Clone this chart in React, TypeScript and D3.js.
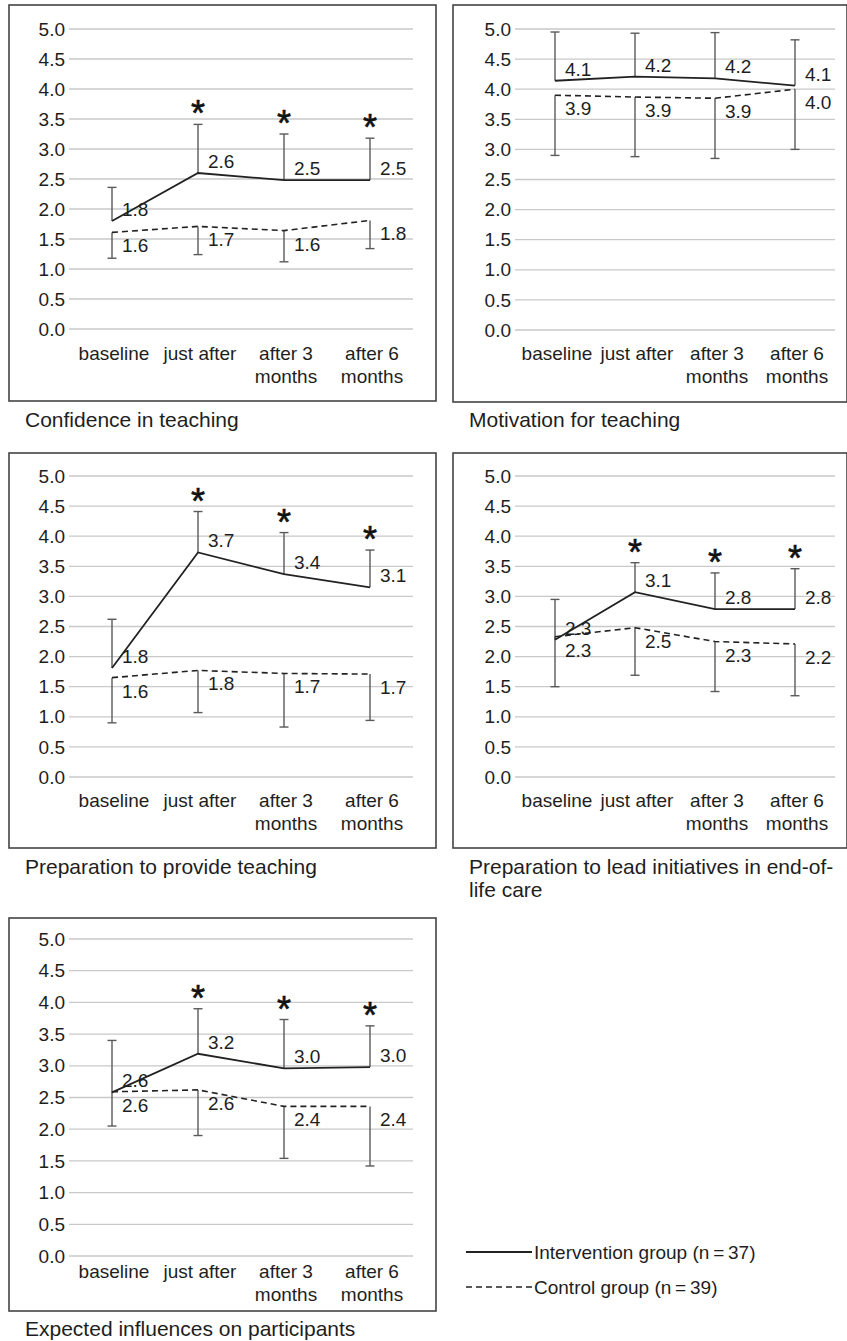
import React from "react";
import * as d3 from "d3";

// ---------- data ----------
const categories = ["baseline", "just after", "after 3 months", "after 6 months"];
const categoryLines = [["baseline"], ["just after"], ["after 3", "months"], ["after 6", "months"]];
const yTicks = [0, 0.5, 1, 1.5, 2, 2.5, 3, 3.5, 4, 4.5, 5];

const titles = [
  ["Confidence in teaching"],
  ["Motivation for teaching"],
  ["Preparation to provide teaching"],
  ["Preparation to lead initiatives in end-of-", "life care"],
  ["Expected influences on participants"],
];

const intMean1 = [1.8, 2.6, 2.48, 2.48];
const intUpper1 = [2.36, 3.41, 3.25, 3.18];
const ctlMean1 = [1.61, 1.71, 1.64, 1.81];
const ctlLower1 = [1.18, 1.24, 1.12, 1.34];
const intLabel1 = ["1.8", "2.6", "2.5", "2.5"];
const ctlLabel1 = ["1.6", "1.7", "1.6", "1.8"];
const sig1 = [false, true, true, true];

const intMean2 = [4.14, 4.21, 4.18, 4.06];
const intUpper2 = [4.95, 4.93, 4.94, 4.82];
const ctlMean2 = [3.9, 3.87, 3.85, 4.0];
const ctlLower2 = [2.9, 2.88, 2.85, 3.0];
const intLabel2 = ["4.1", "4.2", "4.2", "4.1"];
const ctlLabel2 = ["3.9", "3.9", "3.9", "4.0"];
const sig2 = [false, false, false, false];

const intMean3 = [1.81, 3.73, 3.37, 3.15];
const intUpper3 = [2.62, 4.41, 4.06, 3.77];
const ctlMean3 = [1.65, 1.77, 1.72, 1.71];
const ctlLower3 = [0.9, 1.07, 0.83, 0.94];
const intLabel3 = ["1.8", "3.7", "3.4", "3.1"];
const ctlLabel3 = ["1.6", "1.8", "1.7", "1.7"];
const sig3 = [false, true, true, true];

const intMean4 = [2.28, 3.07, 2.79, 2.79];
const intUpper4 = [2.95, 3.56, 3.39, 3.46];
const ctlMean4 = [2.33, 2.48, 2.25, 2.21];
const ctlLower4 = [1.5, 1.69, 1.42, 1.35];
const intLabel4 = ["2.3", "3.1", "2.8", "2.8"];
const ctlLabel4 = ["2.3", "2.5", "2.3", "2.2"];
const sig4 = [false, true, true, true];

const intMean5 = [2.58, 3.19, 2.96, 2.98];
const intUpper5 = [3.4, 3.9, 3.73, 3.63];
const ctlMean5 = [2.59, 2.62, 2.36, 2.36];
const ctlLower5 = [2.05, 1.9, 1.54, 1.42];
const intLabel5 = ["2.6", "3.2", "3.0", "3.0"];
const ctlLabel5 = ["2.6", "2.6", "2.4", "2.4"];
const sig5 = [false, true, true, true];

const legendLabels = ["Intervention group (n\u2009=\u200937)", "Control group (n\u2009=\u200939)"];

const panelData = [
  { intMean: intMean1, intUpper: intUpper1, ctlMean: ctlMean1, ctlLower: ctlLower1, intLabel: intLabel1, ctlLabel: ctlLabel1, sig: sig1 },
  { intMean: intMean2, intUpper: intUpper2, ctlMean: ctlMean2, ctlLower: ctlLower2, intLabel: intLabel2, ctlLabel: ctlLabel2, sig: sig2 },
  { intMean: intMean3, intUpper: intUpper3, ctlMean: ctlMean3, ctlLower: ctlLower3, intLabel: intLabel3, ctlLabel: ctlLabel3, sig: sig3 },
  { intMean: intMean4, intUpper: intUpper4, ctlMean: ctlMean4, ctlLower: ctlLower4, intLabel: intLabel4, ctlLabel: ctlLabel4, sig: sig4 },
  { intMean: intMean5, intUpper: intUpper5, ctlMean: ctlMean5, ctlLower: ctlLower5, intLabel: intLabel5, ctlLabel: ctlLabel5, sig: sig5 },
];

// ---------- layout ----------
const layouts = [
  { box: [9, 5, 436, 401], gx: [69, 413], gy: [329, 29], cat: 360, cap: 427 },
  { box: [453, 5, 847, 402], gx: [515, 835], gy: [330, 29], cat: 360, cap: 427 },
  { box: [9, 453, 436, 848], gx: [69, 413], gy: [777, 476], cat: 807, cap: 874 },
  { box: [453, 453, 847, 848], gx: [515, 835], gy: [777, 476], cat: 807, cap: 874 },
  { box: [9, 918, 436, 1311], gx: [69, 413], gy: [1256, 939], cat: 1278, cap: 1336 },
];

const FONT = '"Liberation Sans", Arial, Helvetica, sans-serif';
const TXT = "#1e1e1e";
const ERR = "#5a5a5a";

function Panel({ idx }: { idx: number }) {
  const L = layouts[idx];
  const D = panelData[idx];
  const x = d3.scaleBand().domain(categories).range(L.gx as [number, number]).padding(0);
  const y = d3.scaleLinear().domain([0, 5]).range(L.gy as [number, number]);
  const cx = (i: number) => (x(categories[i]) as number) + x.bandwidth() / 2;
  const line = d3
    .line<number>()
    .x((_, i) => cx(i))
    .y((v) => y(v));
  const fmt = d3.format(".1f");
  const [bx0, by0, bx1, by1] = L.box;
  const capW = 4.5;
  return (
    <g>
      <rect x={bx0} y={by0} width={bx1 - bx0} height={by1 - by0} fill="none" stroke="#444" strokeWidth={1.6} />
      {yTicks.map((t) => (
        <g key={t}>
          <line x1={L.gx[0]} x2={L.gx[1]} y1={y(t)} y2={y(t)} stroke="#c9c9c9" strokeWidth={1.3} />
          <text x={L.gx[0] - 4} y={y(t)} dy="0.35em" textAnchor="end" fontSize={19} fill={TXT}>
            {fmt(t)}
          </text>
        </g>
      ))}
      {categoryLines.map((lines, i) =>
        lines.map((s, j) => (
          <text key={i + "-" + j} x={cx(i) + 2} y={L.cat + j * 23} textAnchor="middle" fontSize={19} fill={TXT}>
            {s}
          </text>
        ))
      )}
      {/* error bars */}
      {D.intMean.map((m, i) => (
        <g key={"ie" + i} stroke={ERR} strokeWidth={1.4}>
          <line x1={cx(i)} x2={cx(i)} y1={y(m)} y2={y(D.intUpper[i])} />
          <line x1={cx(i) - capW} x2={cx(i) + capW} y1={y(D.intUpper[i])} y2={y(D.intUpper[i])} />
        </g>
      ))}
      {D.ctlMean.map((m, i) => (
        <g key={"ce" + i} stroke={ERR} strokeWidth={1.4}>
          <line x1={cx(i)} x2={cx(i)} y1={y(m)} y2={y(D.ctlLower[i])} />
          <line x1={cx(i) - capW} x2={cx(i) + capW} y1={y(D.ctlLower[i])} y2={y(D.ctlLower[i])} />
        </g>
      ))}
      <path d={line(D.ctlMean) || ""} fill="none" stroke="#222" strokeWidth={1.6} strokeDasharray="6,4" />
      <path d={line(D.intMean) || ""} fill="none" stroke="#222" strokeWidth={1.8} />
      {D.intLabel.map((s, i) => (
        <text key={"il" + i} x={cx(i) + 10} y={y(D.intMean[i]) - 5} fontSize={19} fill={TXT}>
          {s}
        </text>
      ))}
      {D.ctlLabel.map((s, i) => (
        <text key={"cl" + i} x={cx(i) + 10} y={y(D.ctlMean[i]) + 20} fontSize={19} fill={TXT}>
          {s}
        </text>
      ))}
      {D.sig.map((f, i) =>
        f ? (
          <text
            key={"s" + i}
            x={cx(i)}
            y={y(D.intUpper[i]) + 2}
            textAnchor="middle"
            fontSize={36}
            fill="#111"
            stroke="#111"
            strokeWidth={0.6}
          >
            *
          </text>
        ) : null
      )}
      {titles[idx].map((s, j) => (
        <text key={"t" + j} x={bx0 + 16} y={L.cap + j * 23} fontSize={21} fill={TXT}>
          {s}
        </text>
      ))}
    </g>
  );
}

export default function App() {
  const legendY = [1252, 1287];
  return (
    <svg
      width={847}
      height={1341}
      viewBox="0 0 847 1341"
      style={{ position: "absolute", left: 0, top: 0, background: "#fff" }}
      fontFamily={FONT}
    >
      <rect x={0} y={0} width={847} height={1341} fill="#fff" />
      {panelData.map((_, i) => (
        <Panel key={i} idx={i} />
      ))}
      {legendLabels.map((s, i) => (
        <g key={s}>
          <line
            x1={466}
            x2={532}
            y1={legendY[i]}
            y2={legendY[i]}
            stroke="#222"
            strokeWidth={i === 0 ? 1.8 : 1.6}
            strokeDasharray={i === 0 ? undefined : "6,4"}
          />
          <text x={534} y={legendY[i]} dy="0.35em" fontSize={19} fill={TXT}>
            {s}
          </text>
        </g>
      ))}
    </svg>
  );
}
